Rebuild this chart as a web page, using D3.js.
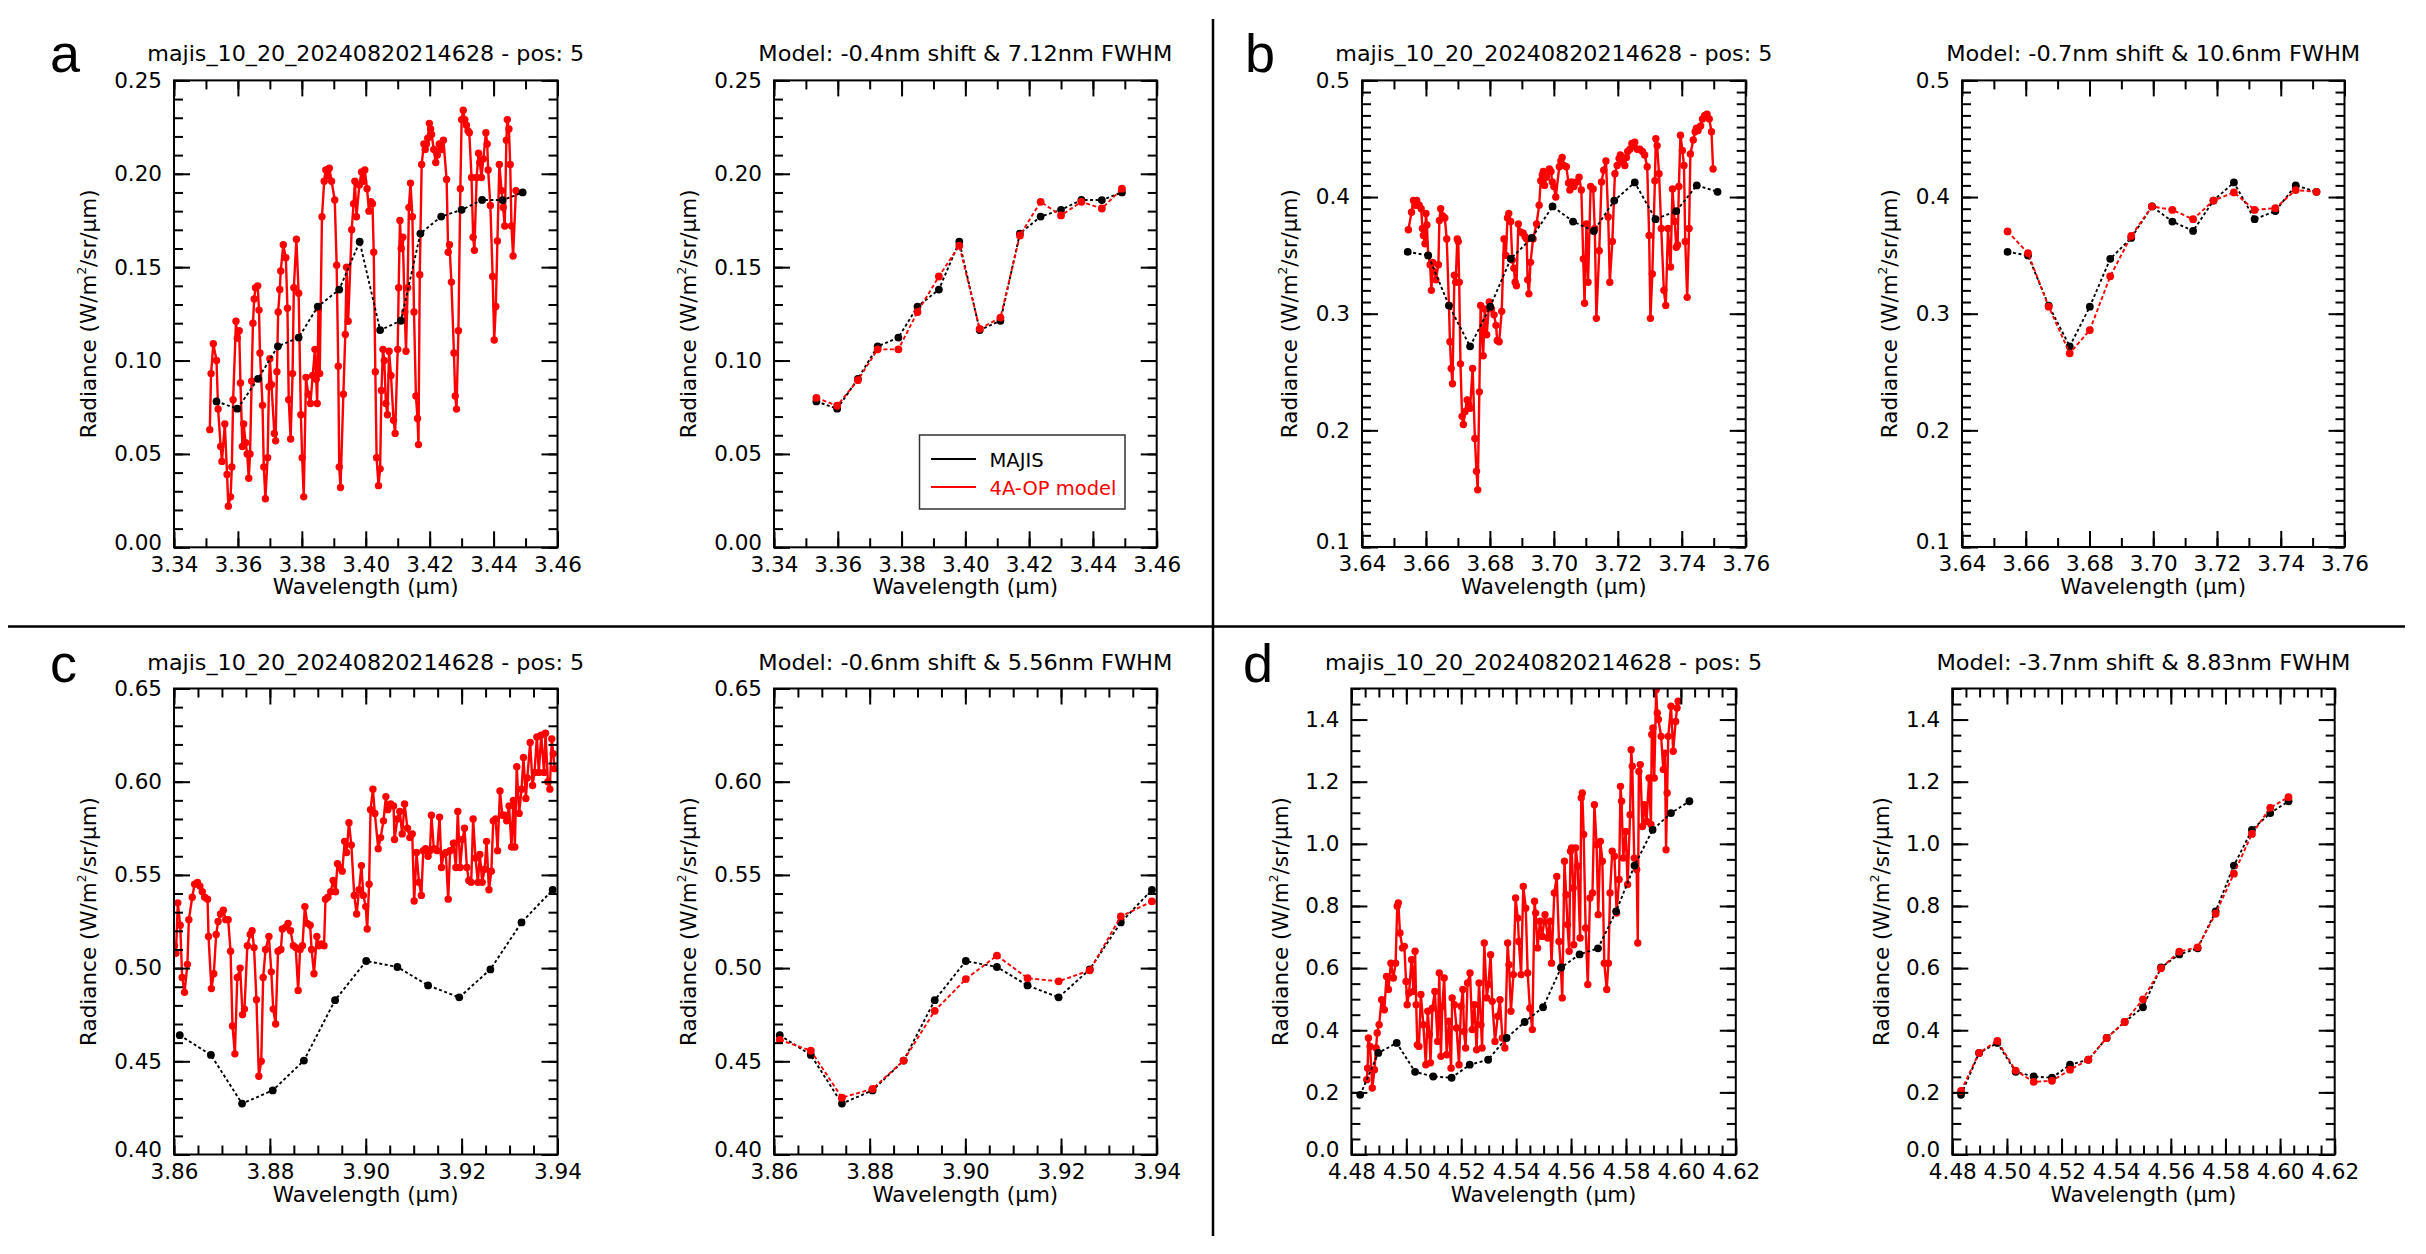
<!DOCTYPE html>
<html>
<head>
<meta charset="utf-8">
<script src="https://cdn.jsdelivr.net/npm/d3@7"></script>
<style>
  body { margin: 0; background: #fff; }
  svg { display: block; font-family: "DejaVu Sans", sans-serif; }
</style>
</head>
<body>
<svg id="fig" width="2426" height="1254"></svg>
<script>
// ---- text ----
const LEFT_TITLE = "majis_10_20_20240820214628 - pos: 5";
const MODEL_TITLES = [
    "Model: -0.4nm shift & 7.12nm FWHM",
    "Model: -0.7nm shift & 10.6nm FWHM",
    "Model: -0.6nm shift & 5.56nm FWHM",
    "Model: -3.7nm shift & 8.83nm FWHM",
];
const PANEL_LETTERS = ["a", "b", "c", "d"];
const SERIES_NAMES = ["MAJIS", "4A-OP model"];

// ---- axes (domains, tick steps, label formats) ----
const X_DOMAINS = [[3.34, 3.46], [3.64, 3.76], [3.86, 3.94], [4.48, 4.62]];
const Y_DOMAINS = [[0, 0.25], [0.1, 0.5], [0.40, 0.65], [0, 1.5]];
const X_MAJOR = [0.02, 0.02, 0.02, 0.02];
const X_MINOR = [0.01, 0.01, 0.005, 0.005];
const Y_MAJOR = [0.05, 0.1, 0.05, 0.2];
const Y_MINOR = [0.01, 0.01, 0.01, 0.05];
const Y_FORMAT = [".2f", ".1f", ".2f", ".1f"];

// ---- MAJIS channels + 4A-OP model ----
const aMajisWave = [3.3533,3.3598,3.3663,3.3725,3.3790,3.3850,3.3917,3.3981,3.4045,3.4110,3.4171,3.4236,3.4300,3.4364,3.4428,3.4491];
const aMajisRad  = [0.0781,0.0742,0.0902,0.1076,0.1123,0.1289,0.1380,0.1636,0.1163,0.1213,0.1680,0.1771,0.1807,0.1860,0.1859,0.1900];
const aModelRad  = [0.0800,0.0758,0.0895,0.1060,0.1060,0.1260,0.1450,0.1615,0.1170,0.1230,0.1670,0.1850,0.1777,0.1850,0.1814,0.1920];

const bMajisWave = [3.6543,3.6607,3.6672,3.6738,3.6801,3.6865,3.6931,3.6996,3.7060,3.7125,3.7189,3.7253,3.7318,3.7383,3.7447,3.7512];
const bMajisRad  = [0.353,0.350,0.307,0.272,0.306,0.347,0.365,0.392,0.379,0.371,0.397,0.4125,0.381,0.388,0.410,0.4045];
const bModelRad  = [0.3705,0.352,0.306,0.266,0.286,0.332,0.3667,0.392,0.389,0.381,0.397,0.404,0.389,0.3905,0.406,0.4045];

const cMajisWave = [3.8612,3.8677,3.8742,3.8806,3.8871,3.8936,3.9001,3.9066,3.9130,3.9195,3.9260,3.9325,3.9390];
const cMajisRad  = [0.4640,0.4534,0.4273,0.4344,0.4504,0.4828,0.5038,0.5006,0.4907,0.4843,0.4993,0.5245,0.5420];
const cModelRad  = [0.4615,0.4557,0.4305,0.4352,0.4504,0.4771,0.4941,0.5067,0.4946,0.4929,0.4988,0.5277,0.5358];

const dMajisWave = [4.4832,4.4898,4.4965,4.5032,4.5098,4.5165,4.5231,4.5298,4.5365,4.5431,4.5498,4.5564,4.5631,4.5698,4.5764,4.5831,4.5897,4.5964,4.6031];
const dMajisRad  = [0.192,0.327,0.359,0.266,0.251,0.247,0.289,0.305,0.375,0.4265,0.474,0.602,0.644,0.6635,0.7826,0.930,1.045,1.099,1.137];
const dModelRad  = [0.205,0.327,0.366,0.270,0.234,0.237,0.273,0.305,0.375,0.4265,0.4995,0.5995,0.653,0.667,0.775,0.904,1.032,1.116,1.150];

// ---- high resolution spectra (red, left column) ----
const aWave = [3.3512,3.3516,3.3523,3.3533,3.3538,3.3546,3.3550,3.3559,3.3566,3.3570,
3.3577,3.3581,3.3585,3.3594,3.3598,3.3604,3.3608,3.3614,3.3618,3.3624,
3.3629,3.3634,3.3638,3.3643,3.3647,3.3651,3.3655,3.3662,3.3666,3.3669,
3.3677,3.3681,3.3686,3.3693,3.3697,3.3700,3.3705,3.3714,3.3718,3.3722,
3.3726,3.3731,3.3734,3.3742,3.3750,3.3755,3.3759,3.3765,3.3771,3.3775,
3.3783,3.3790,3.3797,3.3801,3.3806,3.3813,3.3820,3.3827,3.3834,3.3841,
3.3845,3.3848,3.3852,3.3856,3.3863,3.3870,3.3875,3.3880,3.3886,3.3893,
3.3903,3.3909,3.3914,3.3917,3.3921,3.3930,3.3936,3.3940,3.3945,3.3956,
3.3962,3.3966,3.3971,3.3980,3.3987,3.3993,3.3997,3.4004,3.4010,3.4016,
3.4021,3.4025,3.4030,3.4034,3.4040,3.4045,3.4049,3.4054,3.4058,3.4063,
3.4068,3.4073,3.4079,3.4087,3.4092,3.4100,3.4103,3.4107,3.4111,3.4116,
3.4122,3.4126,3.4131,3.4135,3.4140,3.4146,3.4151,3.4157,3.4162,3.4165,
3.4169,3.4175,3.4182,3.4186,3.4190,3.4194,3.4199,3.4203,3.4206,3.4213,
3.4219,3.4224,3.4230,3.4237,3.4243,3.4253,3.4258,3.4262,3.4268,3.4276,
3.4280,3.4284,3.4290,3.4296,3.4300,3.4305,3.4310,3.4315,3.4320,3.4324,
3.4331,3.4336,3.4340,3.4347,3.4353,3.4357,3.4362,3.4368,3.4376,3.4380,
3.4383,3.4390,3.4397,3.4402,3.4407,3.4412,3.4418,3.4425,3.4430,3.4435,
3.4440,3.4443,3.4448,3.4452,3.4456,3.4461,3.4470];
const aRad = [0.063,0.093,0.109,0.100,0.074,0.054,0.046,0.066,0.039,0.022,
0.027,0.043,0.079,0.121,0.112,0.116,0.088,0.054,0.066,0.056,
0.050,0.037,0.050,0.089,0.120,0.133,0.139,0.140,0.127,0.104,
0.076,0.043,0.026,0.048,0.086,0.101,0.087,0.061,0.057,0.094,
0.126,0.138,0.148,0.162,0.155,0.128,0.079,0.058,0.093,0.139,
0.165,0.136,0.071,0.048,0.027,0.091,0.082,0.077,0.092,0.106,
0.090,0.077,0.128,0.093,0.177,0.196,0.202,0.199,0.203,0.196,
0.186,0.151,0.097,0.043,0.032,0.082,0.114,0.150,0.121,0.170,
0.184,0.196,0.177,0.194,0.201,0.196,0.202,0.192,0.180,0.185,
0.184,0.158,0.094,0.048,0.033,0.042,0.084,0.106,0.100,0.077,
0.071,0.105,0.092,0.068,0.061,0.106,0.139,0.175,0.160,0.166,
0.126,0.105,0.139,0.182,0.195,0.177,0.126,0.081,0.069,0.055,
0.146,0.205,0.216,0.213,0.216,0.219,0.227,0.224,0.221,0.213,
0.206,0.210,0.216,0.213,0.218,0.197,0.158,0.162,0.142,0.104,
0.081,0.074,0.116,0.192,0.229,0.234,0.229,0.226,0.223,0.222,
0.198,0.166,0.159,0.198,0.211,0.206,0.198,0.208,0.222,0.216,
0.202,0.183,0.145,0.111,0.129,0.164,0.205,0.191,0.182,0.172,
0.218,0.229,0.224,0.205,0.172,0.156,0.191];

const bWave = [3.6545,3.6555,3.6561,3.6566,3.6571,3.6575,3.6579,3.6585,3.6589,3.6592,
3.6597,3.6600,3.6603,3.6607,3.6613,3.6617,3.6621,3.6625,3.6631,3.6639,
3.6642,3.6646,3.6652,3.6659,3.6665,3.6672,3.6675,3.6679,3.6683,3.6689,
3.6693,3.6698,3.6701,3.6704,3.6708,3.6713,3.6717,3.6722,3.6729,3.6734,
3.6738,3.6746,3.6753,3.6758,3.6762,3.6767,3.6771,3.6779,3.6784,3.6790,
3.6798,3.6805,3.6813,3.6819,3.6823,3.6829,3.6837,3.6844,3.6850,3.6855,
3.6859,3.6865,3.6870,3.6875,3.6879,3.6883,3.6889,3.6896,3.6904,3.6910,
3.6915,3.6918,3.6922,3.6927,3.6935,3.6946,3.6954,3.6959,3.6964,3.6967,
3.6971,3.6977,3.6986,3.6991,3.6995,3.7000,3.7006,3.7017,3.7022,3.7026,
3.7031,3.7039,3.7046,3.7050,3.7055,3.7063,3.7071,3.7079,3.7086,3.7092,
3.7096,3.7102,3.7107,3.7115,3.7123,3.7128,3.7133,3.7142,3.7149,3.7156,
3.7163,3.7170,3.7175,3.7183,3.7191,3.7198,3.7204,3.7208,3.7215,3.7222,
3.7227,3.7231,3.7238,3.7244,3.7248,3.7253,3.7261,3.7269,3.7277,3.7284,
3.7292,3.7298,3.7302,3.7308,3.7316,3.7319,3.7323,3.7329,3.7336,3.7344,
3.7350,3.7357,3.7365,3.7371,3.7378,3.7383,3.7387,3.7391,3.7396,3.7402,
3.7407,3.7411,3.7417,3.7423,3.7427,3.7436,3.7442,3.7446,3.7451,3.7459,
3.7465,3.7472,3.7479,3.7486,3.7493,3.7498];
const bRad = [0.372,0.387,0.397,0.393,0.397,0.393,0.393,0.390,0.373,0.367,
0.360,0.386,0.376,0.350,0.342,0.320,0.344,0.336,0.329,0.342,
0.380,0.390,0.384,0.382,0.364,0.307,0.276,0.253,0.240,0.333,
0.327,0.364,0.362,0.327,0.257,0.212,0.205,0.216,0.226,0.222,
0.219,0.253,0.193,0.165,0.149,0.233,0.307,0.264,0.304,0.282,
0.310,0.304,0.299,0.290,0.277,0.276,0.302,0.364,0.350,0.382,
0.386,0.379,0.346,0.339,0.327,0.324,0.377,0.370,0.369,0.366,
0.364,0.329,0.317,0.344,0.364,0.377,0.393,0.414,0.419,0.422,
0.410,0.417,0.424,0.422,0.413,0.409,0.400,0.426,0.431,0.434,
0.427,0.426,0.412,0.406,0.413,0.409,0.413,0.417,0.406,0.347,
0.309,0.377,0.327,0.409,0.407,0.373,0.296,0.354,0.413,0.423,
0.431,0.383,0.327,0.362,0.420,0.427,0.433,0.436,0.430,0.427,
0.434,0.439,0.441,0.446,0.444,0.447,0.441,0.441,0.439,0.436,
0.426,0.367,0.296,0.334,0.414,0.450,0.444,0.420,0.373,0.320,
0.307,0.373,0.340,0.407,0.379,0.357,0.359,0.409,0.453,0.440,
0.427,0.362,0.314,0.373,0.437,0.449,0.456,0.459,0.457,0.461,
0.467,0.470,0.471,0.467,0.456,0.424];

const cWave = [3.8601,3.8604,3.8608,3.8613,3.8617,3.8622,3.8628,3.8631,3.8638,3.8643,
3.8649,3.8654,3.8659,3.8664,3.8670,3.8672,3.8678,3.8683,3.8688,3.8692,
3.8697,3.8703,3.8708,3.8713,3.8718,3.8722,3.8727,3.8732,3.8738,3.8743,
3.8747,3.8753,3.8759,3.8763,3.8767,3.8772,3.8777,3.8782,3.8786,3.8791,
3.8798,3.8803,3.8807,3.8812,3.8817,3.8823,3.8826,3.8833,3.8838,3.8843,
3.8849,3.8854,3.8859,3.8863,3.8868,3.8873,3.8878,3.8884,3.8887,3.8892,
3.8898,3.8902,3.8907,3.8913,3.8916,3.8921,3.8927,3.8932,3.8937,3.8941,
3.8946,3.8951,3.8956,3.8960,3.8965,3.8970,3.8976,3.8981,3.8986,3.8991,
3.8995,3.9000,3.9003,3.9007,3.9010,3.9015,3.9019,3.9026,3.9031,3.9037,
3.9042,3.9046,3.9052,3.9058,3.9060,3.9066,3.9071,3.9076,3.9081,3.9087,
3.9092,3.9097,3.9101,3.9106,3.9111,3.9116,3.9120,3.9125,3.9130,3.9134,
3.9137,3.9142,3.9149,3.9154,3.9158,3.9162,3.9167,3.9172,3.9176,3.9183,
3.9188,3.9192,3.9197,3.9202,3.9206,3.9211,3.9215,3.9220,3.9224,3.9229,
3.9234,3.9238,3.9243,3.9248,3.9252,3.9257,3.9262,3.9266,3.9271,3.9275,
3.9280,3.9285,3.9290,3.9294,3.9299,3.9304,3.9308,3.9311,3.9315,3.9320,
3.9325,3.9329,3.9334,3.9337,3.9343,3.9348,3.9352,3.9357,3.9361,3.9366,
3.9372,3.9375,3.9380,3.9384,3.9388,3.9391,3.9394];
const cRad = [0.512,0.508,0.535,0.523,0.495,0.487,0.502,0.526,0.538,0.545,
0.546,0.544,0.541,0.538,0.537,0.517,0.489,0.497,0.518,0.525,
0.529,0.531,0.526,0.526,0.509,0.469,0.454,0.495,0.500,0.475,
0.478,0.512,0.518,0.520,0.511,0.483,0.442,0.450,0.495,0.510,
0.517,0.498,0.478,0.470,0.509,0.510,0.521,0.522,0.524,0.520,
0.512,0.511,0.488,0.510,0.512,0.533,0.524,0.523,0.510,0.497,
0.517,0.512,0.513,0.512,0.537,0.538,0.541,0.547,0.541,0.556,
0.554,0.552,0.568,0.562,0.578,0.566,0.539,0.529,0.542,0.555,
0.539,0.533,0.521,0.545,0.585,0.596,0.583,0.564,0.570,0.579,
0.592,0.585,0.588,0.587,0.569,0.580,0.584,0.572,0.588,0.575,
0.570,0.572,0.536,0.562,0.546,0.539,0.563,0.564,0.560,0.563,
0.582,0.564,0.563,0.581,0.554,0.561,0.562,0.537,0.563,0.567,
0.554,0.584,0.554,0.569,0.575,0.554,0.547,0.546,0.580,0.559,
0.546,0.561,0.546,0.553,0.568,0.542,0.552,0.579,0.580,0.563,
0.595,0.582,0.582,0.579,0.587,0.565,0.590,0.565,0.608,0.583,
0.596,0.613,0.591,0.602,0.621,0.598,0.605,0.624,0.605,0.625,
0.605,0.626,0.600,0.596,0.623,0.615,0.607];

const dWave = [4.4856,4.4859,4.4862,4.4868,4.4876,4.4884,4.4890,4.4894,4.4901,4.4910,
4.4920,4.4928,4.4935,4.4944,4.4953,4.4961,4.4967,4.4971,4.4977,4.4986,
4.4993,4.4999,4.5003,4.5010,4.5019,4.5026,4.5032,4.5036,4.5040,4.5046,
4.5053,4.5062,4.5071,4.5078,4.5084,4.5088,4.5095,4.5104,4.5114,4.5120,
4.5126,4.5131,4.5138,4.5147,4.5155,4.5163,4.5167,4.5175,4.5183,4.5192,
4.5199,4.5206,4.5210,4.5216,4.5223,4.5232,4.5240,4.5248,4.5256,4.5265,
4.5272,4.5276,4.5284,4.5293,4.5299,4.5307,4.5313,4.5323,4.5333,4.5341,
4.5350,4.5359,4.5369,4.5374,4.5381,4.5390,4.5398,4.5406,4.5410,4.5418,
4.5426,4.5435,4.5442,4.5450,4.5459,4.5467,4.5471,4.5478,4.5487,4.5495,
4.5505,4.5515,4.5523,4.5529,4.5539,4.5548,4.5556,4.5563,4.5568,4.5576,
4.5582,4.5587,4.5593,4.5598,4.5602,4.5608,4.5610,4.5617,4.5624,4.5633,
4.5637,4.5641,4.5646,4.5653,4.5661,4.5669,4.5678,4.5685,4.5693,4.5699,
4.5707,4.5714,4.5721,4.5730,4.5736,4.5742,4.5750,4.5758,4.5766,4.5775,
4.5780,4.5784,4.5790,4.5799,4.5806,4.5815,4.5819,4.5823,4.5830,4.5839,
4.5843,4.5847,4.5852,4.5860,4.5867,4.5875,4.5884,4.5891,4.5894,4.5898,
4.5903,4.5910,4.5914,4.5918,4.5928,4.5936,4.5942,4.5946,4.5950,4.5954,
4.5964,4.5972,4.5981,4.5986,4.5990];
const dRad = [0.241,0.278,0.375,0.348,0.214,0.273,0.343,0.391,0.418,0.498,
0.466,0.573,0.531,0.616,0.568,0.616,0.799,0.810,0.713,0.665,
0.670,0.557,0.482,0.520,0.627,0.525,0.654,0.482,0.353,0.348,
0.515,0.418,0.289,0.461,0.386,0.295,0.471,0.525,0.364,0.584,
0.316,0.477,0.568,0.321,0.429,0.278,0.504,0.482,0.407,0.289,
0.477,0.531,0.396,0.343,0.552,0.584,0.402,0.482,0.337,0.552,
0.418,0.343,0.681,0.504,0.547,0.643,0.493,0.364,0.445,0.498,
0.375,0.343,0.681,0.611,0.461,0.579,0.826,0.761,0.686,0.579,
0.863,0.793,0.584,0.471,0.402,0.815,0.777,0.665,0.751,0.702,
0.772,0.697,0.751,0.616,0.842,0.895,0.686,0.600,0.504,0.944,
0.836,0.740,0.654,0.976,0.987,0.858,0.675,0.987,0.928,0.697,
1.148,1.164,1.030,0.729,0.547,0.826,0.842,1.126,0.997,0.772,
1.008,0.944,0.616,0.531,0.616,0.842,0.976,0.960,0.777,0.885,
1.185,1.137,0.954,1.040,0.869,1.094,1.303,1.250,0.954,0.917,
0.681,1.233,1.255,1.056,1.126,1.072,1.212,1.062,1.352,1.373,
1.212,1.496,1.421,1.400,1.346,1.239,1.292,0.981,1.164,1.346,
1.443,1.298,1.394,1.437,1.459];

const PANEL_DATA = [
    { wave: aWave, rad: aRad, mWave: aMajisWave, mRad: aMajisRad, model: aModelRad },
    { wave: bWave, rad: bRad, mWave: bMajisWave, mRad: bMajisRad, model: bModelRad },
    { wave: cWave, rad: cRad, mWave: cMajisWave, mRad: cMajisRad, model: cModelRad },
    { wave: dWave, rad: dRad, mWave: dMajisWave, mRad: dMajisRad, model: dModelRad },
];

// ---- layout ----
const LAYOUT = [
    { left: [174, 557.5],    right: [774, 1156.7],    y: [80.4, 547.3],   ylab: 78, letter: [50, 72] },
    { left: [1362, 1745.7],  right: [1962, 2344.5],   y: [80.4, 547],     ylab: 65, letter: [1245, 72] },
    { left: [174, 557.5],    right: [774, 1156.7],    y: [688.5, 1154.5], ylab: 78, letter: [50, 682] },
    { left: [1351.4, 1735.8], right: [1952.3, 2334.7], y: [688.5, 1154.5], ylab: 63, letter: [1243, 682] },
];
const FONT = "DejaVu Sans, sans-serif";

const SVG = d3.select("#fig");
SVG.append("rect").attr("width", 2426).attr("height", 1254).attr("fill", "#fff");

let stepTicks = (lo, hi, st) => {
    const n = Math.floor((hi - lo) / st + 1e-6);
    return d3.range(n + 1).map((k) => +(lo + k * st).toFixed(6));
};

let clipId = 0;

function drawPanel(i, side) {
    const L = LAYOUT[i];
    const [x0, x1] = side === "left" ? L.left : L.right;
    const [y0, y1] = L.y;
    const X = d3.scaleLinear().domain(X_DOMAINS[i]).range([x0, x1]);
    const Y = d3.scaleLinear().domain(Y_DOMAINS[i]).range([y1, y0]);
    const g = SVG.append("g");

    const id = "clip" + (clipId++);
    g.append("clipPath").attr("id", id)
        .append("rect").attr("x", x0).attr("y", y0).attr("width", x1 - x0).attr("height", y1 - y0);
    const plot = g.append("g").attr("clip-path", `url(#${id})`);

    const D = PANEL_DATA[i];
    const majis = D.mWave.map((w, k) => ({ w: w, v: D.mRad[k] }));
    const model = D.mWave.map((w, k) => ({ w: w, v: D.model[k] }));
    const line = d3.line().x((p) => X(p.w)).y((p) => Y(p.v));

    if (side === "left") {
        const hires = D.wave.map((w, k) => ({ w: w, v: D.rad[k] }));
        plot.append("path").attr("d", line(hires))
            .attr("fill", "none").attr("stroke", "#ff0000").attr("stroke-width", 2.4);
        plot.selectAll(".hr").data(hires).join("circle")
            .attr("cx", (p) => X(p.w)).attr("cy", (p) => Y(p.v))
            .attr("r", 3.7).attr("fill", "#ff0000");
        plot.append("path").attr("d", line(majis))
            .attr("fill", "none").attr("stroke", "#000").attr("stroke-width", 1.9)
            .attr("stroke-dasharray", "3,2.5");
        plot.selectAll(".mj").data(majis).join("circle")
            .attr("cx", (p) => X(p.w)).attr("cy", (p) => Y(p.v))
            .attr("r", 3.9).attr("fill", "#000");
    } else {
        plot.append("path").attr("d", line(majis))
            .attr("fill", "none").attr("stroke", "#000").attr("stroke-width", 1.9)
            .attr("stroke-dasharray", "3,2.5");
        plot.selectAll(".mj").data(majis).join("circle")
            .attr("cx", (p) => X(p.w)).attr("cy", (p) => Y(p.v))
            .attr("r", 3.9).attr("fill", "#000");
        plot.append("path").attr("d", line(model))
            .attr("fill", "none").attr("stroke", "#ff0000").attr("stroke-width", 1.9)
            .attr("stroke-dasharray", "4,2.5");
        plot.selectAll(".md").data(model).join("circle")
            .attr("cx", (p) => X(p.w)).attr("cy", (p) => Y(p.v))
            .attr("r", 3.9).attr("fill", "#ff0000");
    }

    // ticks on all four sides, pointing inward
    const xd = X_DOMAINS[i], yd = Y_DOMAINS[i];
    const xMaj = stepTicks(xd[0], xd[1], X_MAJOR[i]);
    const xMin = stepTicks(xd[0], xd[1], X_MINOR[i]);
    const yMaj = stepTicks(yd[0], yd[1], Y_MAJOR[i]);
    const yMin = stepTicks(yd[0], yd[1], Y_MINOR[i]);

    const put = (axis, tx, ty) => {
        const a = g.append("g").attr("transform", `translate(${tx},${ty})`).call(axis);
        a.select(".domain").remove();
        a.selectAll("line").attr("stroke", "#000").attr("stroke-width", 2);
        a.selectAll("text").attr("font-family", FONT).attr("font-size", 21.5).attr("fill", "#000");
        return a;
    };
    put(d3.axisBottom(X).tickValues(xMin).tickSize(-9).tickFormat(""), 0, y1);
    put(d3.axisTop(X).tickValues(xMin).tickSize(-9).tickFormat(""), 0, y0);
    put(d3.axisLeft(Y).tickValues(yMin).tickSize(-9).tickFormat(""), x0, 0);
    put(d3.axisRight(Y).tickValues(yMin).tickSize(-9).tickFormat(""), x1, 0);
    put(d3.axisBottom(X).tickValues(xMaj).tickSize(-16).tickPadding(9).tickFormat(d3.format(".2f")), 0, y1);
    put(d3.axisTop(X).tickValues(xMaj).tickSize(-16).tickFormat(""), 0, y0);
    const yAx = put(d3.axisLeft(Y).tickValues(yMaj).tickSize(-16).tickPadding(12).tickFormat(d3.format(Y_FORMAT[i])), x0, 0);
    // lowest label sits on the corner next to the first wavelength label
    yAx.selectAll("text").filter((v) => v === yMaj[0]).attr("y", -5);
    put(d3.axisRight(Y).tickValues(yMaj).tickSize(-16).tickFormat(""), x1, 0);

    g.append("rect").attr("x", x0).attr("y", y0).attr("width", x1 - x0).attr("height", y1 - y0)
        .attr("fill", "none").attr("stroke", "#000").attr("stroke-width", 2);

    // title
    const isLeft = side === "left";
    g.append("text")
        .text(isLeft ? LEFT_TITLE : MODEL_TITLES[i])
        .attr("x", (x0 + x1) / 2).attr("y", y0 - 19)
        .attr("text-anchor", "middle")
        .attr("font-family", FONT).attr("font-size", 22)
        .attr("textLength", isLeft ? 437 : 414)
        .attr("lengthAdjust", "spacingAndGlyphs");

    // axis titles
    g.append("text")
        .text("Wavelength (\u03bcm)")
        .attr("x", (x0 + x1) / 2).attr("y", y1 + 47)
        .attr("text-anchor", "middle")
        .attr("font-family", FONT).attr("font-size", 21.5);

    const yl = g.append("text")
        .attr("transform", `translate(${x0 - L.ylab},${(y0 + y1) / 2}) rotate(-90)`)
        .attr("text-anchor", "middle")
        .attr("font-family", FONT).attr("font-size", 21.5);
    yl.append("tspan").text("Radiance (W/m");
    yl.append("tspan").text("2").attr("font-size", 12).attr("dy", -10);
    yl.append("tspan").text("/sr/\u03bcm)").attr("dy", 10);

    if (isLeft) {
        SVG.append("text").text(PANEL_LETTERS[i])
            .attr("x", L.letter[0]).attr("y", L.letter[1])
            .attr("font-family", "Liberation Sans, Arial, sans-serif")
            .attr("font-size", 54);
    }

    if (i === 0 && !isLeft) {
        const lg = g.append("g");
        lg.append("rect").attr("x", 919.5).attr("y", 435).attr("width", 205.5).attr("height", 74)
            .attr("fill", "#fff").attr("stroke", "#333").attr("stroke-width", 1.5);
        const colors = ["#000", "#ff0000"];
        SERIES_NAMES.forEach((name, k) => {
            const yy = 459 + k * 28;
            lg.append("line").attr("x1", 931).attr("x2", 976).attr("y1", yy).attr("y2", yy)
                .attr("stroke", colors[k]).attr("stroke-width", 1.8);
            lg.append("text").text(name).attr("x", 989.5).attr("y", yy + 8)
                .attr("fill", colors[k]).attr("font-family", FONT).attr("font-size", 19.5);
        });
    }
}

for (let i = 0; i < 4; i++) {
    drawPanel(i, "left");
    drawPanel(i, "right");
}

// panel separators
SVG.append("line").attr("x1", 1213).attr("x2", 1213).attr("y1", 19).attr("y2", 1236)
    .attr("stroke", "#000").attr("stroke-width", 2.5);
SVG.append("line").attr("x1", 8).attr("x2", 2405).attr("y1", 626.5).attr("y2", 626.5)
    .attr("stroke", "#000").attr("stroke-width", 2.5);
</script>
</body>
</html>
